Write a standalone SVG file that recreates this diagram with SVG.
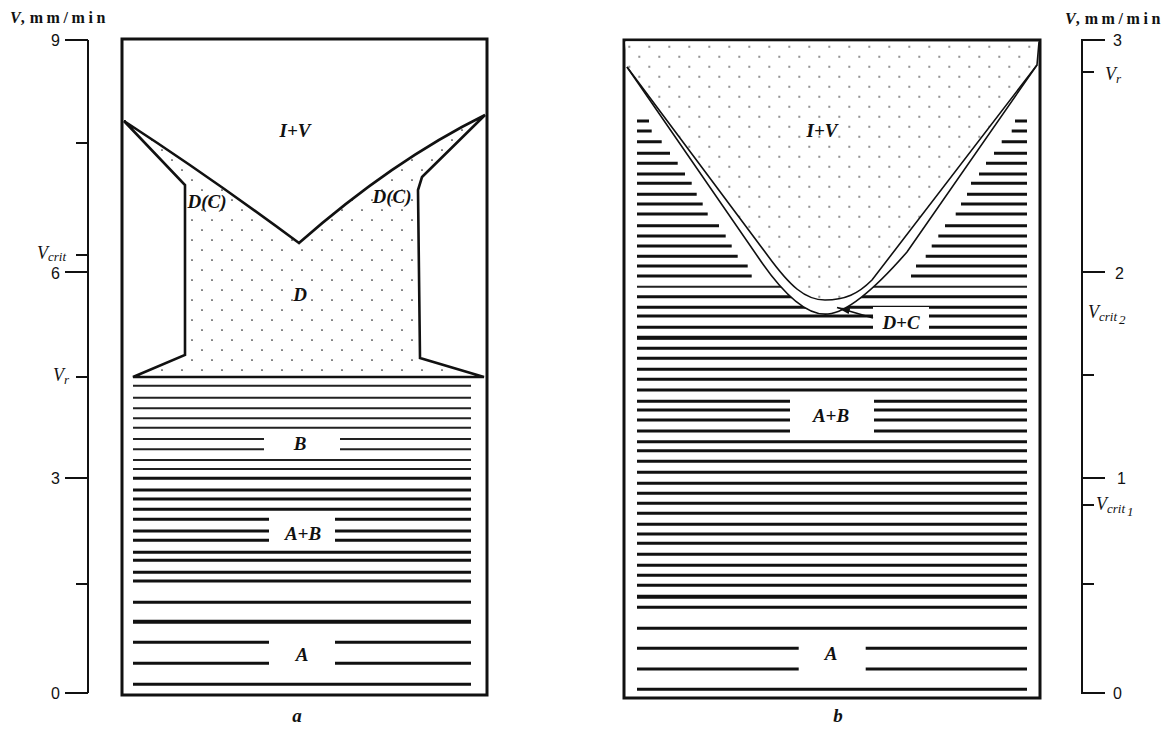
<svg xmlns="http://www.w3.org/2000/svg" width="1175" height="735" viewBox="0 0 1175 735">
<style>
.frame{fill:none;stroke:#111;stroke-width:3}
.axis{fill:none;stroke:#111;stroke-width:2}
.hthin{stroke:#222;stroke-width:2}
.hthick{stroke:#111;stroke-width:3}
.hbold{stroke:#111;stroke-width:4}
.bound{stroke:#111;stroke-width:2.6;stroke-linejoin:miter}
.band{fill:none;stroke:#111;stroke-width:1.6}
.lbl{font-family:"Liberation Serif",serif;font-style:italic;font-weight:bold;font-size:19px;fill:#111}
.num{font-family:"Liberation Sans",Arial,sans-serif;font-size:16px;fill:#111}
.vl{font-family:"Liberation Serif",serif;font-style:italic;font-size:18px;fill:#111}
.sub{font-size:13px}
.hdr{font-family:"Liberation Serif",serif;font-weight:bold;font-size:16px;fill:#111}
</style>
<defs>
<pattern id="dotsL" patternUnits="userSpaceOnUse" x="-3" y="-5" width="20" height="20">
<rect width="20" height="20" fill="#fff"/>
<circle cx="15" cy="5" r="0.85" fill="#222"/>
<circle cx="5" cy="15" r="0.85" fill="#222"/>
</pattern>
<pattern id="dotsR" patternUnits="userSpaceOnUse" x="4.3" y="1.7" width="20" height="20">
<rect width="20" height="20" fill="#fff"/>
<circle cx="5" cy="5" r="0.85" fill="#222"/>
<circle cx="15" cy="15" r="0.85" fill="#222"/>
</pattern>
<marker id="arr" markerWidth="14" markerHeight="8" refX="13" refY="4" orient="auto" markerUnits="userSpaceOnUse">
<path d="M0,1 L13,4 L0,7 Z" fill="#111"/>
</marker>
</defs>
<rect width="1175" height="735" fill="#fff"/>

<!-- Left axis -->
<g id="axis-left">
<text class="hdr" x="10" y="23"><tspan font-style="italic">V</tspan>,<tspan dx="5" letter-spacing="3.6">mm/min</tspan></text>
<path class="axis" d="M88,40 V693"/>
<path class="axis" d="M65,40 H88 M76,143 H88 M76,255 H88 M65,272 H88 M76,377 H88 M65,478 H88 M76,584 H88 M65,693 H88"/>
<text class="num" x="60" y="46" text-anchor="end">9</text>
<text class="num" x="60" y="279" text-anchor="end">6</text>
<text class="num" x="60" y="484" text-anchor="end">3</text>
<text class="num" x="60" y="699" text-anchor="end">0</text>
<text class="vl" x="37" y="259">V<tspan class="sub" dy="2">crit</tspan></text>
<text class="vl" x="53" y="381">V<tspan class="sub" dy="3">r</tspan></text>
</g>

<!-- Left panel a -->
<g id="panel-a">
<rect class="frame" x="122" y="39" width="365" height="656" fill="#fff"/>
<g id="hatch-a">
<path class="hthin" d="M133,385.7H471 M133,397.7H471 M133,408.3H471 M133,418.3H471 M133,427.7H471 M133,439H264 M340,439H471 M133,449.3H264 M340,449.3H471 M133,460H471 M133,469H471"/>
<path class="hthick" d="M133,478.3H471 M133,490H471 M133,499H471 M133,509.3H471 M133,519.3H269 M335,519.3H471 M133,531H269 M335,531H471 M133,540.3H269 M335,540.3H471 M133,552.3H471 M133,560.3H471 M133,572.3H471 M133,581H471 M133,602.3H471 M133,642.3H269 M335,642.3H471 M133,663.3H269 M335,663.3H471 M133,684.3H471"/>
<path class="hbold" d="M133,621.7H471"/>
</g>
<path id="region-a" class="bound" fill="url(#dotsL)" d="M124,121 L185,185 L185,355 L133,377 L484,377 L420,358 L418,190 L422,177 L485,115 Q392,161 299,243 Q211.5,178 124,121 Z"/>
<text class="lbl" x="295" y="137" text-anchor="middle">I+V</text>
<text class="lbl" x="207" y="208" text-anchor="middle">D(C)</text>
<text class="lbl" x="392" y="203" text-anchor="middle">D(C)</text>
<text class="lbl" x="300" y="301" text-anchor="middle">D</text>
<text class="lbl" x="300" y="450" text-anchor="middle">B</text>
<text class="lbl" x="303" y="540" text-anchor="middle">A+B</text>
<text class="lbl" x="302" y="661" text-anchor="middle">A</text>
</g>

<!-- Right panel b -->
<g id="panel-b">
<rect class="frame" x="624" y="40" width="416" height="658" fill="#fff"/>
<g id="hatch-b">
<path class="hthick" d="M637,121H649 M1015,121H1027 M637,131H651.7 M1011.7,131H1027 M637,141.7H661.7 M1001.7,141.7H1027 M637,153.3H670 M994,153.3H1027 M637,163.3H677.7 M986,163.3H1027 M637,174H685 M979,174H1027 M637,183.3H691.7 M971,183.3H1027 M637,194.3H696.7 M967,194.3H1027 M637,204H702.7 M961,204H1027 M637,214H707.7 M955.7,214H1027 M637,225.7H719 M945,225.7H1027 M637,236H725.7 M938.3,236H1027 M637,246H731.7 M931.7,246H1027 M637,256.3H737.7 M925.7,256.3H1027 M637,266H747.7 M916,266H1027 M637,276H751.7 M911,276H1027"/>
<path class="hthin" d="M637,286.7H1027"/>
<path class="hthick" d="M637,296.7H1027 M637,307.3H1027 M637,316H1027 M637,327.3H1027 M637,337.7H1027 M637,348.3H1027 M637,358.3H1027 M637,369.3H1027 M637,379.3H1027 M637,390H1027 M637,401.3H790 M874,401.3H1027 M637,410H790 M874,410H1027 M637,420H790 M874,420H1027 M637,431H790 M874,431H1027 M637,441.7H1027 M637,450.7H1027 M637,461.3H1027 M637,472.3H1027 M637,483.3H1027 M637,493.3H1027 M637,503.3H1027 M637,513.3H1027 M637,524.3H1027 M637,534H1027 M637,543.3H1027 M637,554.3H1027 M637,565.3H1027 M637,575.3H1027 M637,585.3H1027 M637,607.3H1027 M637,628.3H1027 M637,648.3H798.7 M865.7,648.3H1027 M637,669H798.7 M865.7,669H1027 M637,689.3H1027"/>
<path class="hbold" d="M637,337.7H1027 M637,596.7H1027"/>
</g>
<path id="band-b" fill="#fff" d="M627,67 L758,257 C785,297 808,316 828,314 C850,312 880,283 907,252 L1037,65 L1039,42 L625.5,41.5 Z"/>
<path id="region-b" fill="url(#dotsR)" d="M627,67 L768,256 C790,286 805,300 825,300 C845,300 858,294 872,280 L1037,65 L1039,42 L625.5,41.5 Z"/>
<path class="band" d="M627,67 L768,256 C790,286 805,300 825,300 C845,300 858,294 872,280 L1037,65 L1039,42"/>
<path class="band" d="M627,67 L758,257 C785,297 808,316 828,314 C850,312 880,283 907,252 L1037,65"/>
<rect id="dc-box" x="873" y="307" width="56" height="24" fill="#fff"/>
<text class="lbl" x="822" y="137" text-anchor="middle">I+V</text>
<text class="lbl" x="901" y="329" text-anchor="middle">D+C</text>
<text class="lbl" x="831" y="422" text-anchor="middle">A+B</text>
<text class="lbl" x="831" y="660" text-anchor="middle">A</text>
</g>

<g id="connectors">
<path d="M873,318 L837,307.5" stroke="#111" stroke-width="1.6" fill="none" marker-end="url(#arr)"/>
</g>

<!-- Right axis -->
<g id="axis-right">
<text class="hdr" x="1065" y="24"><tspan font-style="italic">V</tspan>,<tspan dx="5" letter-spacing="3.6">mm/min</tspan></text>
<path class="axis" d="M1082,40 V693"/>
<path class="axis" d="M1081,40 H1105 M1082,72 H1094 M1082,272 H1105 M1082,375 H1094 M1082,478 H1105 M1082,505 H1094 M1082,584 H1094 M1081,693 H1105"/>
<text class="num" x="1113" y="46">3</text>
<text class="num" x="1115" y="279">2</text>
<text class="num" x="1117" y="484">1</text>
<text class="num" x="1113" y="699">0</text>
<text class="vl" x="1105" y="80">V<tspan class="sub" dy="3">r</tspan></text>
<text class="vl" x="1088" y="318">V<tspan class="sub" dy="3">crit</tspan><tspan class="sub" dy="3" dx="2">2</tspan></text>
<text class="vl" x="1096" y="510">V<tspan class="sub" dy="3">crit</tspan><tspan class="sub" dy="3" dx="2">1</tspan></text>
</g>

<g id="captions">
<text class="lbl" x="297" y="722" text-anchor="middle" font-size="15">a</text>
<text class="lbl" x="838" y="722" text-anchor="middle" font-size="15">b</text>
</g>
</svg>
